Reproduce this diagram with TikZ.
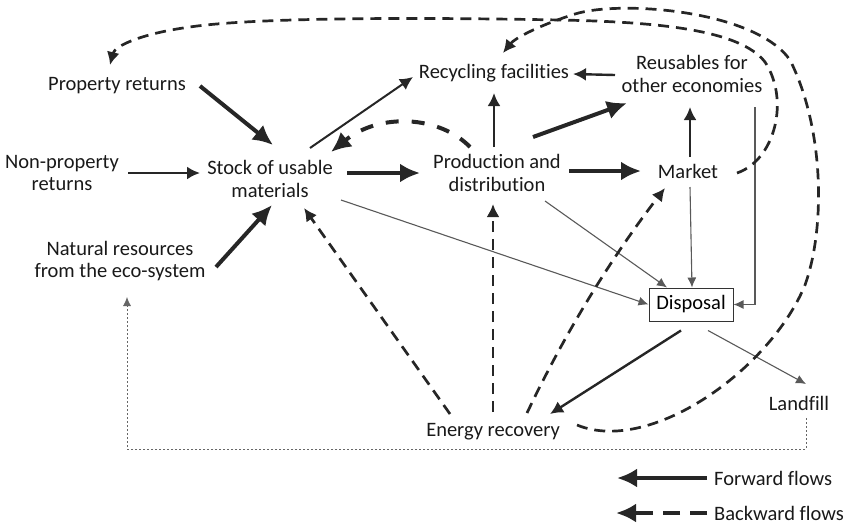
\documentclass[tikz,border=0pt]{standalone}
\usepackage{fontspec}
\setmainfont{Carlito}[Ligatures=NoCommon]
\usetikzlibrary{arrows.meta}

\begin{document}
\begin{tikzpicture}[
  x=1pt, y=-1pt,
  lbl/.style={align=center, font=\fontsize{20.5}{22.5}\selectfont, text=black!90, inner sep=2pt},
  dbox/.style={draw=black!80, line width=1pt, minimum width=84pt, minimum height=33pt, inner sep=0pt, font=\fontsize{20.5}{22.5}\selectfont},
  thickarr/.style={-{Latex[length=20pt,width=19pt]}, line width=4pt, draw=black!85},
  medarr/.style={-{Latex[length=13pt,width=13pt]}, line width=2.4pt, draw=black!85},
  thinarr/.style={-{Latex[length=10pt,width=9pt]}, line width=1.1pt, draw=black!65},
  bigdash/.style={thickarr, dash pattern=on 13pt off 13pt},
  backarr/.style={medarr, line width=2.7pt, dash pattern=on 11pt off 7pt},
  dotline/.style={-{Latex[length=9pt,width=8pt]}, line width=0.8pt, draw=black!60, dash pattern=on 2pt off 2pt}
]
\useasboundingbox (0,0) rectangle (850,528);

% nodes
\node[lbl] (prop) at (117,86) {Property returns};
\node[lbl] (nonprop) at (62,173) {Non-property\\returns};
\node[lbl] (natural) at (120,261) {Natural resources\\from the eco-system};
\node[lbl] (stock) at (270,179) {Stock of usable\\materials};
\node[lbl] (recyc) at (494,73) {Recycling facilities};
\node[lbl] (reuse) at (692,74) {Reusables for\\other economies};
\node[lbl] (prod) at (497,173) {Production and\\distribution};
\node[lbl] (market) at (688,171) {Market};
\node[dbox] (disposal) at (691,304.5) {Disposal};
\node[lbl] (landfill) at (799,403) {Landfill};
\node[lbl] (energy) at (493,432) {Energy recovery};

% legend
\node[lbl, anchor=west] (fwdtxt) at (712,478) {Forward flows};
\node[lbl, anchor=west] (backtxt) at (712,513) {Backward flows};
\coordinate (fwdtip) at (617,478);
\coordinate (backtip) at (616,513);
\draw[thickarr] ([xshift=-5pt]fwdtxt.west) -- (fwdtip);
\draw[thickarr, dash pattern=on 17pt off 10pt] ([xshift=-5pt]backtxt.west) -- (backtip);

% forward flows
\draw[thickarr] ([shift={(83,0)}]prop.center) -- ([shift={(3,-34)}]stock.center);
\draw[medarr] ([shift={(66,0)}]nonprop.center) -- ([shift={(-70,-6)}]stock.center);
\draw[thickarr] ([shift={(96,6)}]natural.center) -- ([shift={(2,26)}]stock.center);
\draw[medarr, line width=2pt] ([shift={(40,-31)}]stock.center) -- ([shift={(-81,4)}]recyc.center);
\draw[thickarr] ([shift={(77,-6)}]stock.center) -- ([shift={(-77,0)}]prod.center);
\draw[medarr] ([shift={(-3,-26)}]prod.center) -- ([shift={(0,20)}]recyc.center);
\draw[thickarr] ([shift={(36,-36)}]prod.center) -- ([shift={(-65,29)}]reuse.center);
\draw[medarr] ([shift={(-77,1)}]reuse.center) -- ([shift={(79,1)}]recyc.center);
\draw[thickarr] ([shift={(72,-2)}]prod.center) -- ([shift={(-47,0)}]market.center);
\draw[medarr] ([shift={(2,-14)}]market.center) -- ([shift={(-2,33)}]reuse.center);
\draw[medarr] ([xshift=-10pt,yshift=-9pt]disposal.south) -- ([shift={(57,-18)}]energy.center);

% to disposal and landfill
\draw[thinarr] ([shift={(2,16)}]market.center) -- ([xshift=1pt]disposal.north);
\draw[thinarr] ([shift={(63,33)}]reuse.center) |- (disposal.east);
\draw[thinarr] ([shift={(71,21)}]stock.center) -- (disposal.west);
\draw[thinarr] ([shift={(48,28)}]prod.center) -- ([xshift=-24pt]disposal.north);
\draw[thinarr] ([xshift=17pt,yshift=-9pt]disposal.south) -- ([shift={(7,-19)}]landfill.center);

% backward flows
\draw[bigdash] ([shift={(-27,-26)}]prod.center) .. controls (440,116) and (380,112) .. ([shift={(61,-27)}]stock.center);
\draw[backarr] ([shift={(-43,-18)}]energy.center) -- ([shift={(34,29)}]stock.center);
\draw[backarr] ([shift={(0,-20)}]energy.center) -- ([shift={(-4,31)}]prod.center);
\draw[backarr] ([shift={(34,-19)}]energy.center) .. controls (565,333) and (611,258) .. ([shift={(-23,17)}]market.center);
\draw[backarr] ([shift={(49,2)}]market.center) .. controls (775,160) and (790,100) .. (765,62)
  .. controls (740,30) and (660,22) .. (560,20)
  .. controls (400,17) and (250,18) .. (190,27)
  .. controls (145,33) and (115,45) .. ([shift={(-7,-21)}]prop.center);
\draw[backarr] ([shift={(84,-7)}]energy.center) .. controls (650,455) and (770,370) .. (805,285)
  .. controls (825,230) and (825,130) .. (790,60)
  .. controls (755,10) and (620,0) .. (575,14)
  .. controls (540,25) and (515,38) .. ([shift={(9,-20)}]recyc.center);

% return to eco-system
\draw[dotline] ([shift={(7,15)}]landfill.center) -- ++(0,31) -| ([shift={(7,36)}]natural.center);
\end{tikzpicture}
\end{document}
